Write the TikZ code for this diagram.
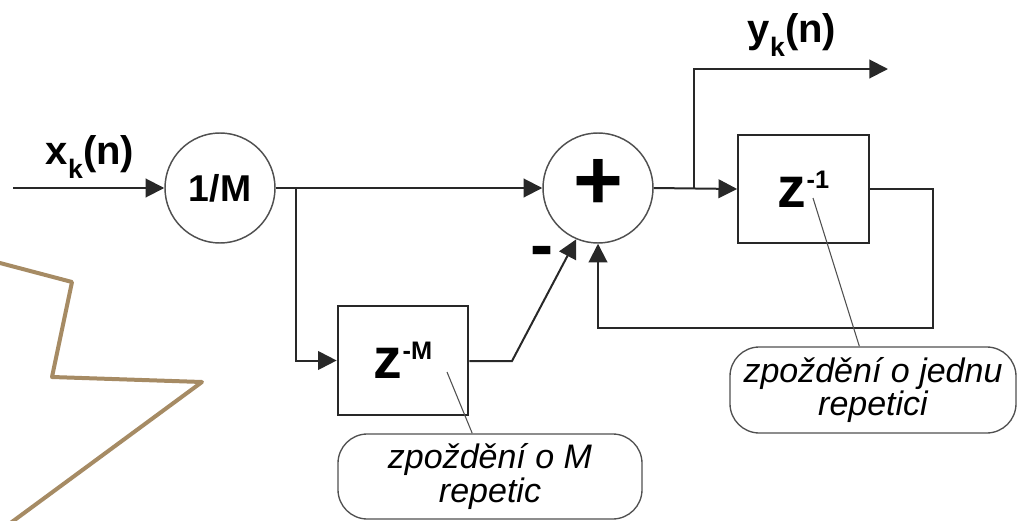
\documentclass[tikz,border=0pt]{standalone}
\usepackage{fontspec}
\setmainfont{Liberation Sans}
\usetikzlibrary{arrows.meta}
\definecolor{wire}{HTML}{282828}
\definecolor{rim}{HTML}{505050}
\definecolor{zig}{HTML}{A68B64}

% z with a raised exponent, as used in the delay blocks
\newcommand{\zpow}[1]{{\fontsize{43}{43}\selectfont z}\raisebox{14pt}{\fontsize{19}{19}\selectfont -#1}}

\begin{document}
\begin{tikzpicture}[x=0.75pt,y=-0.75pt,
  wire/.style={draw=wire, line width=1.5pt},
  arr/.style={wire, -{Triangle[length=14pt,width=14pt]}},
  opnode/.style={circle, draw=rim, line width=1.1pt, minimum size=82.5pt, inner sep=0pt,
                 font=\bfseries\fontsize{28}{28}\selectfont},
  delay/.style={rectangle, draw=wire, line width=1.5pt, minimum width=98pt,
                minimum height=81.5pt, inner sep=0pt, font=\bfseries},
  callout/.style={rectangle, rounded corners=22pt, draw=rim, line width=1pt, align=center,
                  inner sep=0pt, font=\itshape\fontsize{25.5}{25}\selectfont},
  pointer/.style={draw=rim, line width=0.8pt},
  sig/.style={inner sep=0pt, font=\bfseries\fontsize{30}{30}\selectfont}]

\useasboundingbox (0,0) rectangle (1018,521);

% decorative zigzag
\draw[zig, line width=3pt, line join=round] (-5,261.7) -- (72,282) -- (52,377) -- (202,382) -- (1,530);

% blocks
\node[opnode] (gain) at (220,188) {1/M};
\node[opnode] (sum) at (598,188) {};
\node[sig, font=\bfseries\fontsize{64}{64}\selectfont] (plus) at (598,184) {+};
\node[delay] (dM) at (403,360.5) {\zpow{M}};
\node[delay] (d1) at (803.5,189) {\zpow{1}};

% signal labels
\node[sig] (xin) at (90,157) {x\raisebox{-10pt}{\fontsize{20}{20}\selectfont k}(n)};
\node[sig] (yout) at (792,35) {y\raisebox{-10pt}{\fontsize{20}{20}\selectfont k}(n)};
\node[sig, font=\bfseries\fontsize{52}{52}\selectfont] (minus) at (542,257) {-};

% notes
\node[callout, minimum width=228pt, minimum height=63.75pt] (noteM) at (490,476.5)
  {zpoždění o M\\repetic};
\node[callout, minimum width=214.5pt, minimum height=64.5pt] (note1) at (873,390)
  {zpoždění o jednu\\repetici};

% helper points
\coordinate (src) at (13,188);
\coordinate (split1) at (296,188);
\coordinate (bend) at (512,361);
\coordinate (split2) at (694,188);
\coordinate (outend) at (888,69);
\coordinate (fbcorner) at (933,328);
\coordinate (tipM) at (447,372);
\coordinate (tip1) at (813,198);

% connectors
\draw[arr] (src) -- (gain.west);
\draw[arr] (gain.east) -- (sum.west);
\draw[arr] (split1) |- (dM.west);
\draw[arr] (dM.east |- bend) -- (bend) -- (sum.247);
\draw[arr] (sum.east) -- (d1.west);
\draw[arr] (split2) |- (outend);
\draw[arr] (d1.east) -| (fbcorner) -| (sum.south);

% note pointers
\draw[pointer] (tipM) -- (noteM);
\draw[pointer] (tip1) -- (note1);
\end{tikzpicture}
\end{document}
